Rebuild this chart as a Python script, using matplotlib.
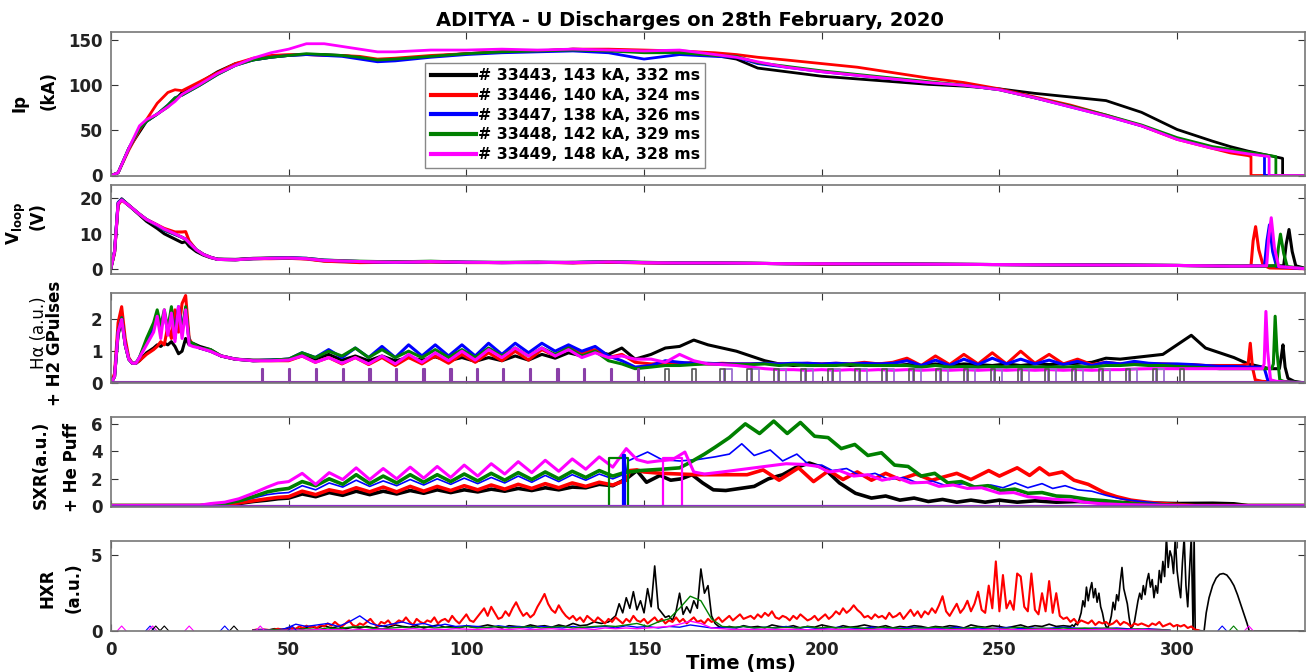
import numpy as np
import matplotlib
matplotlib.use("Agg")
import matplotlib.pyplot as plt

plt.rcParams['font.family'] = ['DejaVu Sans']
plt.rcParams['font.weight'] = 'bold'
plt.rcParams['mathtext.fontset'] = 'dejavusans'

# ------------------------------------------------------------------ data
shots = ["33443", "33446", "33447", "33448", "33449"]
ip_peak = [143, 140, 138, 142, 148]
duration = [332, 324, 326, 329, 328]
colors = ["#000000", "#ff0000", "#0000ff", "#008000", "#ff00ff"]

# ---- Ip (kA)
t_ip = [0, 2, 5, 8, 10, 13, 16, 18, 20, 25, 30, 35, 40, 45, 50, 55, 60, 65, 70, 75, 80, 90, 100,
        110, 120, 130, 140, 150, 160, 170, 176, 182, 190, 200, 210, 220, 230, 240, 250, 260, 270,
        280, 290, 300, 310, 315, 320]
ip_33443 = [0, 3, 30, 48, 60, 68, 76, 84, 92, 103, 115, 124, 128, 131, 133, 134, 134, 133, 131, 128,
            129, 132, 135, 137, 138, 140, 139, 137, 136, 133, 129, 119, 115, 110, 107, 104, 101, 99,
            96, 91, 87, 83, 70, 51, 38, 32, 27]
ip_33446 = [0, 3, 28, 50, 62, 80, 92, 95, 94, 104, 114, 124, 130, 133, 134, 134, 133, 133, 132, 129,
            130, 133, 135, 137, 138, 140, 140, 139, 138, 136, 134, 131, 128, 124, 120, 114, 108, 103,
            96, 87, 78, 67, 55, 40, 30, 25, 22]
ip_33447 = [0, 3, 30, 52, 60, 68, 78, 86, 89, 100, 112, 122, 128, 131, 133, 134, 133, 132, 129, 126,
            127, 131, 134, 136, 137, 138, 136, 129, 134, 132, 131, 124, 120, 115, 111, 107, 103, 100,
            95, 86, 76, 66, 55, 41, 31, 28, 25]
ip_33448 = [0, 3, 30, 52, 60, 68, 78, 86, 89, 100, 112, 122, 128, 131, 133, 135, 134, 133, 131, 128,
            129, 132, 135, 137, 138, 139, 138, 136, 136, 133, 132, 125, 121, 116, 112, 108, 104, 100,
            95, 86, 77, 67, 56, 42, 32, 29, 26]
ip_33449 = [0, 3, 30, 55, 62, 68, 76, 82, 90, 101, 113, 122, 130, 136, 140, 146, 146, 143, 140, 137,
            137, 139, 139, 140, 139, 140, 139, 138, 139, 134, 131, 126, 120, 115, 111, 107, 103, 100,
            95, 86, 76, 66, 55, 40, 30, 27, 24]
ip_end_t = [329.7, 320.8, 324.6, 327.8, 325.9]
ip_end_v = [19, 21, 22, 21, 21]

# ---- Vloop (V)
t_vl = [0, 1, 2, 3, 5, 8, 10, 13, 15, 18, 20, 21, 22, 24, 26, 28, 30, 35, 40, 45, 50, 55, 60, 70, 80,
        90, 100, 110, 120, 130, 140, 150, 160, 170, 180, 190, 200, 220, 240, 260, 280, 300, 310, 315]
vl_33443 = [0.5, 5, 18.5, 19.8, 18, 15.3, 13.5, 11.5, 10, 8.5, 7.5, 7.8, 6.5, 5.0, 4.0, 3.3, 2.9, 2.8,
            3.1, 3.2, 3.2, 3.0, 2.4, 2.1, 2.1, 2.1, 2.0, 1.9, 1.9, 2.0, 2.0, 1.9, 1.8, 1.7, 1.7, 1.6,
            1.5, 1.5, 1.4, 1.3, 1.2, 1.1, 1.0, 0.9]
vl_33446 = [0.5, 4.5, 18, 19.5, 18, 15.5, 14, 12.5, 11.5, 10.5, 10.5, 10.6, 8, 5.5, 4.2, 3.4, 2.8, 2.7,
            3.0, 3.0, 3.1, 2.9, 2.3, 1.9, 2.0, 2.1, 1.9, 1.9, 2.0, 1.8, 2.0, 1.8, 1.7, 1.8, 1.7, 1.6,
            1.5, 1.5, 1.4, 1.3, 1.2, 1.1, 1.0, 0.9]
vl_33447 = [0.5, 5, 18.8, 19.7, 18, 15.5, 14, 12.3, 11.0, 9.8, 9.0, 8.5, 7.5, 5.5, 4.2, 3.4, 2.8, 2.7,
            3.0, 3.1, 3.3, 3.1, 2.6, 2.2, 2.0, 2.2, 2.0, 1.9, 2.0, 1.9, 2.2, 1.9, 1.8, 1.8, 1.7, 1.6,
            1.6, 1.5, 1.4, 1.3, 1.2, 1.1, 1.0, 0.9]
vl_33448 = [0.5, 5, 18.6, 19.6, 18, 15.5, 14, 12.4, 11.1, 9.9, 9.0, 8.4, 7.4, 5.5, 4.2, 3.4, 2.8, 2.7,
            3.0, 3.1, 3.2, 3.1, 2.6, 2.3, 2.1, 2.3, 2.0, 2.0, 2.0, 1.9, 2.2, 2.0, 1.8, 1.8, 1.7, 1.6,
            1.6, 1.5, 1.4, 1.3, 1.2, 1.1, 1.0, 0.9]
vl_33449 = [0.5, 5, 18.5, 19.5, 18, 15.5, 14, 12.5, 11.3, 10, 9, 8.5, 7.5, 5.5, 4.2, 3.4, 2.8, 2.7,
            3.0, 3.1, 3.2, 3.0, 2.5, 2.2, 2.0, 2.2, 2.0, 1.9, 2.0, 1.9, 2.1, 1.9, 1.8, 1.8, 1.7, 1.6,
            1.6, 1.5, 1.4, 1.3, 1.2, 1.1, 1.0, 0.9]
vl_tail_t = [[322, 330, 330.7, 331.5, 332.4, 333.4, 336],
             [318, 320.8, 321.4, 322.1, 323.0, 324.2, 326, 336],
             [318, 324.6, 325.3, 326.0, 326.9, 328, 336],
             [320, 328.0, 328.5, 329.1, 330.0, 331, 336],
             [318, 325.2, 325.8, 326.5, 327.4, 328.6, 336]]
vl_tail_v = [[0.9, 1.0, 7, 11.2, 5, 1.0, 0.3],
             [0.9, 1.0, 8, 12, 5.5, 1.2, 0.4, 0.2],
             [0.9, 1.0, 8, 12.5, 5, 0.8, 0.2],
             [0.9, 1.0, 6, 9.9, 4.5, 0.8, 0.2],
             [0.9, 1.0, 9, 14.5, 6, 0.8, 0.2]]

# ---- H-alpha (a.u.)
t_ha_a = [0, 1, 2, 3, 4, 5, 6, 7, 8, 10, 12, 13, 14, 15, 16, 17, 18, 19, 20, 21, 22, 23, 25, 28, 31,
          35, 40, 45]
t_ha_b = np.linspace(50, 147.5, 27)
t_ha_c = np.arange(152, 317, 4)
ha_a = [
    [0, 0.2, 1.5, 2.0, 1.2, 0.75, 0.62, 0.62, 0.7, 0.95, 1.1, 1.2, 1.15, 1.25, 1.2, 1.3, 1.15, 0.92,
     1.0, 1.4, 1.2, 1.25, 1.15, 1.05, 0.85, 0.75, 0.72, 0.72],
    [0, 0.3, 1.9, 2.4, 1.4, 0.8, 0.62, 0.62, 0.7, 0.9, 1.05, 1.15, 1.3, 1.2, 1.8, 1.4, 2.3, 1.6, 2.5,
     2.75, 1.4, 1.2, 1.1, 1.0, 0.85, 0.75, 0.7, 0.7],
    [0, 0.2, 1.6, 2.05, 1.2, 0.75, 0.62, 0.62, 0.8, 1.3, 1.8, 2.0, 1.7, 2.2, 1.6, 2.3, 1.5, 2.4, 1.7,
     2.3, 1.3, 1.2, 1.1, 1.0, 0.85, 0.75, 0.7, 0.72],
    [0, 0.2, 1.6, 2.05, 1.2, 0.75, 0.62, 0.62, 0.8, 1.4, 1.9, 2.3, 1.8, 2.3, 1.7, 2.4, 1.4, 2.35, 1.6,
     2.4, 1.3, 1.25, 1.1, 1.05, 0.85, 0.75, 0.7, 0.72],
    [0, 0.2, 1.6, 2.0, 1.2, 0.75, 0.62, 0.62, 0.8, 1.2, 1.6, 2.1, 1.4, 2.3, 1.5, 2.2, 1.3, 2.4, 1.4,
     2.3, 1.2, 1.15, 1.1, 1.0, 0.85, 0.75, 0.7, 0.7]]
ha_b = [
    [0.75, 0.85, 0.75, 0.9, 0.72, 0.85, 0.7, 0.85, 0.7, 0.8, 0.72, 0.82, 0.7, 0.8, 0.68, 0.8, 0.7,
     0.85, 0.72, 0.9, 0.78, 0.95, 0.85, 1.0, 0.9, 1.1, 0.75],
    [0.7, 0.85, 0.65, 0.8, 0.6, 0.8, 0.58, 0.8, 0.55, 0.8, 0.6, 0.85, 0.62, 0.9, 0.65, 0.95, 0.7, 1.0,
     0.72, 1.05, 0.85, 1.15, 0.95, 1.05, 0.8, 0.9, 0.65],
    [0.75, 0.95, 0.8, 1.05, 0.8, 1.1, 0.8, 1.15, 0.8, 1.2, 0.85, 1.2, 0.85, 1.2, 0.85, 1.25, 0.9, 1.25,
     0.95, 1.25, 1.0, 1.2, 1.0, 1.15, 0.85, 0.7, 0.5],
    [0.75, 0.95, 0.8, 1.0, 0.85, 1.1, 0.8, 1.05, 0.8, 1.0, 0.8, 1.05, 0.8, 1.05, 0.8, 1.1, 0.85, 1.1,
     0.85, 1.1, 0.9, 1.1, 0.85, 1.0, 0.7, 0.6, 0.45],
    [0.72, 0.85, 0.65, 0.8, 0.62, 0.8, 0.6, 0.85, 0.6, 0.9, 0.65, 0.95, 0.7, 1.0, 0.72, 1.05, 0.8, 1.1,
     0.85, 1.1, 0.85, 1.05, 0.8, 0.95, 0.8, 0.85, 0.75]]
ha_c = [
    [0.9, 1.1, 1.15, 1.35, 1.2, 1.1, 1.0, 0.85, 0.7, 0.6, 0.55, 0.58, 0.55, 0.6, 0.55, 0.58, 0.6, 0.55,
     0.58, 0.55, 0.6, 0.55, 0.6, 0.58, 0.55, 0.6, 0.55, 0.6, 0.58, 0.6, 0.62, 0.65, 0.78, 0.75, 0.8,
     0.85, 0.9, 1.2, 1.5, 1.1, 0.95, 0.8],
    [0.6, 0.62, 0.6, 0.65, 0.6, 0.62, 0.6, 0.6, 0.62, 0.6, 0.6, 0.62, 0.6, 0.62, 0.6, 0.65, 0.6, 0.65,
     0.78, 0.55, 0.85, 0.58, 0.9, 0.6, 0.95, 0.6, 1.0, 0.62, 0.9, 0.6, 0.75, 0.58, 0.65, 0.6, 0.62,
     0.6, 0.6, 0.58, 0.58, 0.55, 0.55, 0.55],
    [0.55, 0.7, 0.65, 0.62, 0.62, 0.6, 0.6, 0.6, 0.62, 0.6, 0.62, 0.62, 0.6, 0.62, 0.6, 0.62, 0.6,
     0.62, 0.7, 0.55, 0.72, 0.55, 0.75, 0.58, 0.78, 0.6, 0.75, 0.6, 0.72, 0.58, 0.68, 0.55, 0.65, 0.6,
     0.68, 0.62, 0.6, 0.6, 0.58, 0.55, 0.52, 0.52],
    [0.5, 0.55, 0.55, 0.58, 0.6, 0.58, 0.58, 0.58, 0.6, 0.55, 0.58, 0.55, 0.55, 0.55, 0.58, 0.55, 0.55,
     0.55, 0.55, 0.5, 0.55, 0.5, 0.52, 0.5, 0.52, 0.5, 0.52, 0.5, 0.5, 0.5, 0.52, 0.5, 0.55, 0.55,
     0.58, 0.55, 0.55, 0.52, 0.5, 0.48, 0.45, 0.45],
    [0.75, 0.65, 0.9, 0.7, 0.6, 0.58, 0.55, 0.5, 0.45, 0.42, 0.42, 0.4, 0.42, 0.4, 0.42, 0.4, 0.42,
     0.4, 0.42, 0.4, 0.42, 0.4, 0.42, 0.4, 0.42, 0.4, 0.42, 0.4, 0.42, 0.4, 0.42, 0.4, 0.42, 0.42,
     0.44, 0.45, 0.45, 0.45, 0.45, 0.45, 0.45, 0.45]]
ha_tail_t = [[320, 326, 328.8, 329.3, 329.8, 330.4, 331.2, 333, 336],
             [318, 320.0, 320.6, 321.2, 322, 324, 336],
             [320, 323.5, 324.6, 325.5, 327, 336],
             [320, 326.6, 327.1, 327.6, 328.1, 328.9, 330, 336],
             [320, 324.0, 324.5, 325.0, 325.5, 326.3, 328, 336]]
ha_tail_v = [[0.6, 0.45, 0.45, 0.8, 1.2, 0.5, 0.15, 0.05, 0],
             [0.55, 0.6, 1.25, 0.5, 0.1, 0.05, 0],
             [0.5, 0.5, 0.45, 0.1, 0.05, 0],
             [0.45, 0.45, 0.6, 2.1, 1.0, 0.1, 0.05, 0],
             [0.45, 0.45, 0.6, 2.25, 1.0, 0.1, 0.05, 0]]

# H2 gas pulses
h2_single_t = [42.5, 50, 57.7, 65.2, 72.7, 80.2, 87.9, 95.5, 102.9, 110.3, 117.8, 125.6, 133.1,
               140.6, 148.3]
h2_grey_t = [155.9, 163.4, 171.5, 179.1, 186.7, 194.3, 201.9, 209.5, 217.1, 224.7, 232.3, 239.9,
             247.5, 255.1, 262.7, 270.3, 277.9, 285.5, 293.1, 300.7]
h2_violet_t = [172.5, 180.1, 187.7, 195.3, 202.9, 210.5, 218.1, 225.7, 233.3, 240.9, 248.5, 256.1,
               263.7, 271.3, 278.9, 286.5, 294.1]
h2_single_width, h2_grey_width, h2_violet_width = 0.35, 1.2, 2.2
h2_height = 0.45

# ---- SXR (a.u.)
t_sx_a = [0, 25, 28, 32, 36, 40, 44, 47]
t_sx_b = np.linspace(50, 145, 26)
sx_a = [[0.05, 0.05, 0.05, 0.1, 0.2, 0.35, 0.45, 0.55],
        [0.05, 0.05, 0.08, 0.15, 0.25, 0.4, 0.55, 0.65],
        [0.05, 0.05, 0.1, 0.2, 0.35, 0.6, 0.85, 0.95],
        [0.05, 0.05, 0.1, 0.2, 0.4, 0.7, 1.05, 1.2],
        [0.05, 0.08, 0.2, 0.3, 0.55, 0.95, 1.4, 1.7]]
sx_b = [[0.6, 0.9, 0.7, 1.0, 0.8, 1.1, 0.85, 1.1, 0.9, 1.15, 0.95, 1.2, 1.0, 1.2, 1.05, 1.25, 1.1, 1.3,
         1.15, 1.35, 1.2, 1.4, 1.35, 1.6, 1.5, 2.0],
        [0.7, 1.1, 0.85, 1.2, 1.0, 1.35, 1.05, 1.4, 1.05, 1.45, 1.1, 1.45, 1.15, 1.5, 1.2, 1.55, 1.25,
         1.6, 1.3, 1.65, 1.35, 1.7, 1.45, 1.75, 1.55, 1.9],
        [1.0, 1.5, 1.2, 1.7, 1.4, 1.9, 1.45, 1.85, 1.5, 1.95, 1.55, 2.0, 1.6, 2.05, 1.65, 2.1, 1.7, 2.2,
         1.75, 2.25, 1.8, 2.3, 1.9, 2.35, 2.0, 2.4],
        [1.3, 1.8, 1.5, 2.0, 1.6, 2.3, 1.65, 2.2, 1.7, 2.3, 1.75, 2.3, 1.8, 2.35, 1.85, 2.4, 1.9, 2.45,
         1.95, 2.5, 2.0, 2.55, 2.1, 2.6, 2.2, 2.5],
        [1.8, 2.4, 1.6, 2.45, 1.95, 2.8, 1.95, 2.75, 2.0, 2.85, 2.05, 2.9, 2.1, 3.0, 2.2, 3.1, 2.35, 3.25,
         2.45, 3.35, 2.55, 3.45, 2.7, 3.6, 2.85, 4.2]]
sx_c_t = [[148, 150.7, 154.5, 157.5, 160.5, 163.5, 166.5, 169.5, 173, 177, 181, 185, 189, 192.5, 196.5,
           200.5, 205, 209.5, 214, 218, 222, 226, 230, 234, 238, 242, 246, 250, 255, 260, 266, 272,
           280, 290, 300, 310, 316, 320, 336],
          [146, 148, 150, 155, 160, 165, 170, 175, 179, 183.5, 188, 193.5, 197.7, 202, 206, 210, 214,
           218, 222, 226.5, 231, 238, 242, 247, 250, 255, 258.5, 261.3, 264, 267.7, 271, 275, 279.5,
           283, 287, 291.5, 296, 305, 336],
          [145.5, 148, 151, 155, 160, 165, 170, 174, 177.5, 181, 185.5, 189, 193, 196.5, 200, 203, 207,
           211, 215, 219, 223, 227, 231, 235, 240, 244, 247.6, 251, 254.5, 258, 262, 265, 268.5, 272,
           276, 280, 284, 288, 292, 297, 305, 336],
          [146, 148.8, 155, 160, 163, 167, 170, 174, 178.5, 182.5, 186.5, 190.3, 194, 198, 201.8, 205.5,
           209.3, 213, 216.8, 220.5, 224.3, 228, 231.8, 235.5, 239.3, 243, 246.8, 250.5, 254.3, 258,
           262, 266, 270, 275, 280, 285, 290, 296, 305, 336],
          [148, 151, 154, 158, 161.5, 164, 167, 172, 178, 184, 190, 195, 199, 202, 205, 209, 213, 217,
           221, 225, 229.7, 233, 237, 241, 245, 250, 254, 258, 262, 266, 270.5, 274, 278, 285, 295,
           305, 336]]
sx_c_v = [[2.6, 1.75, 2.25, 1.9, 2.0, 2.3, 1.7, 1.2, 1.15, 1.3, 1.45, 2.0, 2.3, 2.8, 3.15, 2.8, 1.7,
           0.95, 0.6, 0.75, 0.45, 0.6, 0.35, 0.5, 0.3, 0.45, 0.3, 0.45, 0.3, 0.4, 0.3, 0.35, 0.3, 0.25,
           0.2, 0.22, 0.18, 0.05, 0.05],
          [2.6, 2.65, 2.5, 2.4, 2.35, 2.3, 2.3, 2.3, 2.3, 2.65, 1.9, 2.8, 1.8, 2.6, 1.95, 2.5, 1.9, 2.4,
           1.95, 2.35, 1.9, 2.4, 1.95, 2.6, 2.2, 2.8, 2.25, 2.8, 2.3, 2.5, 1.9, 1.6, 1.0, 0.7, 0.45,
           0.3, 0.2, 0.05, 0.05],
          [3.3, 3.6, 3.95, 3.4, 3.3, 3.4, 3.6, 3.8, 4.55, 3.7, 4.1, 3.3, 3.8, 3.0, 3.0, 2.6, 2.75, 2.2,
           2.4, 1.95, 2.1, 1.7, 1.85, 1.5, 1.65, 1.4, 1.55, 1.35, 1.7, 1.35, 1.65, 1.3, 1.5, 1.2, 1.1,
           0.8, 0.55, 0.4, 0.3, 0.15, 0.05, 0.05],
          [2.5, 2.6, 2.7, 2.8, 3.2, 3.8, 4.3, 5.0, 6.0, 5.3, 6.2, 5.3, 6.1, 5.1, 5.0, 4.2, 4.5, 3.7, 3.9,
           3.0, 2.9, 2.2, 2.4, 1.7, 1.8, 1.4, 1.5, 1.15, 1.25, 0.95, 1.0, 0.75, 0.7, 0.5, 0.4, 0.25,
           0.15, 0.1, 0.05, 0.05],
          [3.4, 3.2, 3.3, 3.4, 3.95, 2.5, 2.35, 2.5, 2.7, 2.9, 3.1, 3.05, 2.9, 2.5, 2.6, 2.2, 2.3, 1.9,
           2.1, 1.7, 1.75, 1.45, 1.55, 1.3, 1.35, 0.95, 1.0, 0.7, 0.6, 0.5, 0.45, 0.3, 0.2, 0.12, 0.08,
           0.05, 0.05]]
# He puff pulses (shot index, start, end, height)
he_shot = [3, 2, 4]
he_start = [140.2, 144.0, 155.4]
he_end = [145.5, 144.6, 160.6]
he_height = [3.55, 3.75, 3.5]
he_base = 0.05

# ---- HXR (a.u.)
t_hx_red = np.arange(40, 307, 1)
hx_red = [0.05, 0.1, 0.05, 0.1, 0.08, 0.05, 0.1, 0.15, 0.1, 0.05,
          0.1, 0.2, 0.15, 0.3, 0.2, 0.35, 0.25, 0.3, 0.2, 0.4,
          0.3, 0.5, 0.35, 0.6, 0.4, 0.3, 0.5, 0.7, 0.4, 0.3,
          0.5, 0.4, 0.6, 0.8, 0.5, 0.3, 0.6, 0.5, 0.7, 0.4,
          0.5, 0.7, 0.6, 0.9, 0.6, 0.4, 0.8, 0.6, 0.5, 0.7,
          0.6, 0.9, 0.5, 0.7, 0.8, 0.6, 1.0, 0.7, 0.5, 0.8,
          1.1, 0.7, 0.6, 0.9, 1.2, 1.5, 1.0, 1.6, 1.2, 0.8,
          0.9, 1.3, 1.0, 1.5, 1.9, 1.4, 1.0, 1.2, 0.9, 1.1,
          1.6, 2.0, 2.45, 1.8, 1.4, 1.2, 1.7, 1.3, 1.0, 0.8,
          1.0, 0.7, 0.9, 0.6, 1.0, 0.8, 0.6, 0.9, 0.7, 0.5,
          0.8, 0.6, 0.9, 0.7, 0.5, 0.8, 0.6, 1.0, 0.7, 0.6,
          0.8, 0.5, 0.7, 0.9, 0.6, 0.8, 0.5, 0.7, 0.6, 0.9,
          0.6, 0.8, 0.5, 0.7, 0.9, 0.6, 0.7, 0.5, 0.8, 0.6,
          0.7, 0.9, 0.6, 0.8, 1.0, 0.7, 0.9, 1.1, 0.8, 0.9,
          1.0, 0.8, 1.1, 0.9, 1.2, 1.0, 1.3, 0.9, 0.8, 1.0,
          0.9, 0.7, 1.0, 0.8, 1.1, 0.9, 0.7, 0.8, 1.0, 0.7,
          0.9, 1.1, 0.8, 1.0, 1.3, 1.1, 1.5, 1.2, 1.4, 1.7,
          1.4, 1.2, 0.9, 1.0, 0.8, 1.1, 0.9, 1.0, 0.8, 1.2,
          0.9, 1.0, 1.2, 0.8, 1.1, 1.4, 1.0, 1.3, 0.9, 1.3,
          1.1, 1.5, 1.2, 1.7, 2.3, 1.3, 1.0, 1.4, 1.8, 1.2,
          1.5, 2.0, 1.3, 1.8, 2.6, 1.4, 1.2, 3.0, 1.5, 4.6,
          1.3, 3.7, 1.5, 2.0, 1.4, 3.8, 3.6, 1.6, 1.3, 3.8,
          1.4, 1.1, 2.5, 1.3, 3.3, 1.2, 2.5, 1.0, 0.8, 0.9,
          0.6, 0.8, 0.5, 0.7, 0.6, 0.5, 0.7, 0.4, 0.6, 0.5,
          0.6, 0.4, 0.5, 0.7, 0.4, 0.6, 0.5, 0.3, 0.5, 0.4,
          0.5, 0.4, 0.3, 0.5, 0.4, 0.6, 0.3, 0.4, 0.5, 0.3,
          0.4, 0.3, 0.4, 0.2, 0.3, 0.1, 0.05]
t_hx_blk = np.concatenate([np.arange(40, 140, 2), np.arange(140, 173, 1), np.arange(174, 270, 2),
                           np.arange(270, 305, 0.5),
                           [304.8, 305.1, 307.6, 308.2, 309, 310, 311, 312, 313, 314, 315, 316, 317,
                            318, 319, 319.7, 320.3, 336]])
hx_blk = [0.05, 0.1, 0.05, 0.15, 0.1, 0.2, 0.1, 0.15, 0.3, 0.2, 0.35, 0.2, 0.3, 0.15, 0.25, 0.2, 0.3,
          0.2, 0.35, 0.25, 0.4, 0.3, 0.25, 0.35, 0.2, 0.3, 0.4, 0.25, 0.3, 0.2, 0.35, 0.25, 0.3, 0.4,
          0.3, 0.2, 0.35, 0.3, 0.25, 0.4, 0.3, 0.35, 0.25, 0.4, 0.3, 0.5, 0.35, 0.4, 0.6, 0.5,
          0.6, 0.8, 1.0, 1.8, 1.2, 2.2, 1.5, 2.6, 1.4, 2.0, 1.2, 2.8, 1.6, 4.3, 1.5, 1.2, 0.9, 1.0, 0.7,
          1.3, 2.5, 1.1, 1.6, 1.2, 2.0, 1.5, 4.1, 2.5, 3.0, 1.0, 0.5, 0.3, 0.2,
          0.3, 0.2, 0.35, 0.25, 0.3, 0.2, 0.4, 0.3, 0.25, 0.35, 0.2, 0.3, 0.25, 0.4, 0.3, 0.2, 0.35,
          0.25, 0.3, 0.4, 0.3, 0.25, 0.35, 0.2, 0.3, 0.25, 0.35, 0.3, 0.2, 0.3, 0.25, 0.35, 0.3, 0.2,
          0.4, 0.3, 0.25, 0.35, 0.3, 0.2, 0.3, 0.4, 0.25, 0.35, 0.3, 0.45, 0.3, 0.35,
          0.3, 0.4, 0.3, 0.5, 0.4, 0.8, 1.2, 2.0, 1.6, 2.9, 2.0, 2.7, 3.2, 2.2, 2.8, 1.9, 2.5, 1.6, 1.2,
          0.6, 0.3, 0.2, 0.5, 1.0, 1.9, 1.4, 2.4, 2.0, 3.2, 4.2, 2.8, 2.3, 1.8, 0.9, 0.2, 0.3, 0.6, 1.3,
          2.0, 2.5, 2.1, 3.0, 2.4, 3.3, 3.8, 2.9, 3.4, 2.2, 3.0, 2.5, 4.0, 3.2, 4.6, 3.6, 6.2, 4.2, 5.3,
          4.9, 3.8, 6.2, 4.0, 3.0, 2.2, 4.5, 6.2, 3.0, 1.6, 4.0, 6.2, 0.1,
          6.2, 0.05, 0.0, 1.2, 2.2, 3.0, 3.5, 3.75, 3.8, 3.7, 3.4, 3.0, 2.4, 1.7, 1.0, 0.5, 0.0, 0.0]
t_hx3 = np.arange(40, 299, 3)
hx_blue = [0.05, 0.1, 0.05, 0.15, 0.45, 0.3, 0.4, 0.5, 0.3, 0.6, 1.0, 0.5, 0.3, 0.45,
           0.6, 0.4, 0.5, 0.3, 0.45, 0.3, 0.35, 0.3, 0.2, 0.35, 0.25, 0.3, 0.2, 0.3,
           0.25, 0.2, 0.3, 0.2, 0.25, 0.3, 0.2, 0.35, 0.25, 0.3, 0.2, 0.3, 0.25, 0.4,
           0.3, 0.2, 0.25, 0.2, 0.3, 0.2, 0.25, 0.2, 0.3, 0.2, 0.25, 0.15, 0.2, 0.25,
           0.2, 0.15, 0.25, 0.2, 0.15, 0.2, 0.25, 0.2, 0.15, 0.2, 0.25, 0.15, 0.2, 0.15,
           0.2, 0.25, 0.15, 0.2, 0.15, 0.2, 0.25, 0.2, 0.15, 0.2, 0.15, 0.2, 0.15, 0.1,
           0.15, 0.1, 0.05]
hx_green = [0.05, 0.05, 0.1, 0.05, 0.1, 0.15, 0.1, 0.2, 0.15, 0.25, 0.3, 0.2, 0.15, 0.2,
            0.25, 0.2, 0.3, 0.2, 0.25, 0.2, 0.3, 0.2, 0.25, 0.3, 0.2, 0.25, 0.3, 0.2,
            0.25, 0.3, 0.2, 0.25, 0.3, 0.35, 0.3, 0.4, 0.5, 0.3, 0.6, 0.8, 1.5, 2.3,
            2.0, 0.8, 0.3, 0.25, 0.3, 0.2, 0.25, 0.2, 0.25, 0.2, 0.3, 0.2, 0.25, 0.2,
            0.25, 0.2, 0.15, 0.25, 0.2, 0.15, 0.2, 0.2, 0.25, 0.2, 0.15, 0.2, 0.25, 0.2,
            0.15, 0.2, 0.25, 0.15, 0.2, 0.15, 0.2, 0.15, 0.2, 0.15, 0.2, 0.15, 0.1, 0.15,
            0.1, 0.1, 0.05]
hx_mag = [0.03, 0.05, 0.03, 0.05, 0.08, 0.05, 0.1, 0.08, 0.1, 0.05, 0.1, 0.08, 0.12, 0.1,
          0.1, 0.15, 0.1, 0.12, 0.1, 0.15, 0.12, 0.1, 0.15, 0.12, 0.1, 0.15, 0.1, 0.12,
          0.15, 0.1, 0.12, 0.15, 0.1, 0.2, 0.15, 0.2, 0.15, 0.2, 0.25, 0.3, 0.45, 0.65,
          0.5, 0.2, 0.15, 0.1, 0.12, 0.1, 0.12, 0.1, 0.12, 0.1, 0.08, 0.1, 0.12, 0.1,
          0.1, 0.08, 0.1, 0.12, 0.1, 0.08, 0.1, 0.1, 0.12, 0.08, 0.1, 0.1, 0.08, 0.1,
          0.12, 0.1, 0.08, 0.1, 0.12, 0.1, 0.08, 0.1, 0.08, 0.1, 0.12, 0.1, 0.08, 0.1,
          0.08, 0.05, 0.03]
hx_bump_t = [3.0, 11.0, 11.7, 12.6, 15.0, 22.0, 32.0, 34.6, 42.0, 51.0, 312.7, 315.9, 320.2]
hx_bump_shot = [4, 2, 4, 0, 0, 4, 2, 0, 4, 2, 2, 3, 4]
hx_bump_h = 0.33

# ------------------------------------------------------------------ figure
W_PX, H_PX = 1309, 672
fig = plt.figure(figsize=(W_PX / 100, H_PX / 100), dpi=100)


def fx(x):
    return x / W_PX


def fy(y):
    return 1 - y / H_PX


X0, X1 = 111, 1305
rows = [(32, 175.5), (185, 274), (293, 383), (417, 507), (541, 631)]
ylims = [(0, 159), (-1.3, 23.7), (0, 2.83), (-0.05, 6.5), (0, 5.95)]
yticks = [[0, 50, 100, 150], [0, 10, 20], [0, 1, 2], [0, 2, 4, 6], [0, 5]]
axes = []
for (top, bot), yl, yt in zip(rows, ylims, yticks):
    ax = fig.add_axes([fx(X0), fy(bot), (X1 - X0) / W_PX, (bot - top) / H_PX])
    ax.set_xlim(0, 336)
    ax.set_ylim(*yl)
    ax.set_yticks(yt)
    ax.set_xticks([0, 50, 100, 150, 200, 250, 300])
    ax.tick_params(direction='in', top=True, right=True, length=5, width=0.8,
                   labelsize=12, colors='#333333', labelcolor='#222222', pad=6)
    ax.tick_params(axis='x', labelbottom=False)
    for s in ax.spines.values():
        s.set_color('#777777')
        s.set_linewidth(1.2)
    axes.append(ax)
axes[-1].tick_params(axis='x', labelbottom=True, pad=7)
ax_ip, ax_vl, ax_ha, ax_sx, ax_hx = axes

# Ip
ip_all = [ip_33443, ip_33446, ip_33447, ip_33448, ip_33449]
handles = []
for i in range(5):
    x = list(t_ip) + [ip_end_t[i], ip_end_t[i], 336]
    y = list(ip_all[i]) + [ip_end_v[i], 0, 0]
    ln, = ax_ip.plot(x, y, color=colors[i], lw=2.0)
    handles.append(ln)
labels = [f"# {s}, {p} kA, {d} ms" for s, p, d in zip(shots, ip_peak, duration)]
leg = ax_ip.legend(handles, labels, loc='upper left', bbox_to_anchor=(0.263, 0.785),
                   borderaxespad=0, fontsize=11.3, handlelength=2.9, handletextpad=0.1,
                   labelspacing=0.3, borderpad=0.35, fancybox=False, framealpha=1,
                   edgecolor='#888888')
for lh in leg.get_lines():
    lh.set_linewidth(3)

# Vloop
vl_all = [vl_33443, vl_33446, vl_33447, vl_33448, vl_33449]
for i in range(5):
    ax_vl.plot(list(t_vl) + vl_tail_t[i], vl_all[i] + vl_tail_v[i], color=colors[i], lw=2.2)

# H-alpha
for i in range(5):
    x = list(t_ha_a) + list(t_ha_b) + list(t_ha_c) + ha_tail_t[i]
    y = ha_a[i] + ha_b[i] + ha_c[i] + ha_tail_v[i]
    ax_ha.plot(x, y, color=colors[i], lw=2.2)


def pulses(starts, width, height):
    xs, ys = [0], [0.02]
    for s in starts:
        xs += [s, s, s + width, s + width]
        ys += [0.02, height, height, 0.02]
    xs.append(336)
    ys.append(0.02)
    return xs, ys


px_, py_ = pulses(h2_violet_t, h2_violet_width, h2_height)
ax_ha.plot(px_, py_, color='#9b6fd0', lw=1.3)
px_, py_ = pulses(h2_grey_t, h2_grey_width, h2_height * 0.95)
ax_ha.plot(px_, py_, color='#555555', lw=1.2)
px_, py_ = pulses(h2_single_t, h2_single_width, h2_height)
ax_ha.plot(px_, py_, color='#8a3fa8', lw=1.5)

# SXR
sx_lw = [2.6, 2.6, 1.2, 2.6, 2.2]
for i in range(5):
    x = list(t_sx_a) + list(t_sx_b) + sx_c_t[i]
    y = sx_a[i] + sx_b[i] + sx_c_v[i]
    ax_sx.plot(x, y, color=colors[i], lw=sx_lw[i])
for k in range(len(he_shot)):
    ax_sx.plot([he_start[k], he_start[k], he_end[k], he_end[k]],
               [he_base, he_height[k], he_height[k], he_base], color=colors[he_shot[k]], lw=1.6)
ax_sx.plot([0, 336], [he_base, he_base], color='#8e2fc8', lw=1.6)

# HXR
ax_hx.plot(t_hx_blk, hx_blk, color=colors[0], lw=1.2)
ax_hx.plot(t_hx_red, hx_red, color=colors[1], lw=1.5)
ax_hx.plot(t_hx3, hx_blue, color=colors[2], lw=1.0)
ax_hx.plot(t_hx3, hx_green, color=colors[3], lw=1.0)
ax_hx.plot(t_hx3, hx_mag, color=colors[4], lw=1.0)
for t, s in zip(hx_bump_t, hx_bump_shot):
    ax_hx.plot([t - 1.2, t, t + 1.2], [0.02, hx_bump_h, 0.02], color=colors[s], lw=0.8)

# ------------------------------------------------------------------ texts
fig.text(fx(690), fy(25.5), "ADITYA - U Discharges on 28th February, 2020", ha='center',
         va='baseline', fontsize=14, fontweight='bold')
fig.text(fx(741), fy(669), "Time (ms)", ha='center', va='baseline', fontsize=14,
         fontweight='bold')
ylabels = [("Ip", 20, 103, 'bold'), ("(kA)", 49, 91, 'bold'),
           (r"V$_{\mathbf{loop}}$", 16, 224, 'bold'), ("(V)", 38, 216, 'bold'),
           ("H\u03b1 (a.u.)", 39, 333, 'normal'), ("+ H2 GPulses", 55, 343, 'bold'),
           ("SXR(a.u.)", 41, 465, 'bold'), ("+ He Puff", 72, 468, 'bold'),
           ("HXR", 47, 588, 'bold'), ("(a.u.)", 74, 588, 'bold')]
for txt, x, y, w in ylabels:
    fig.text(fx(x), fy(y), txt, rotation=90, ha='center', va='center', fontsize=12,
             fontweight=w)

fig.savefig("out.png", dpi=100)
